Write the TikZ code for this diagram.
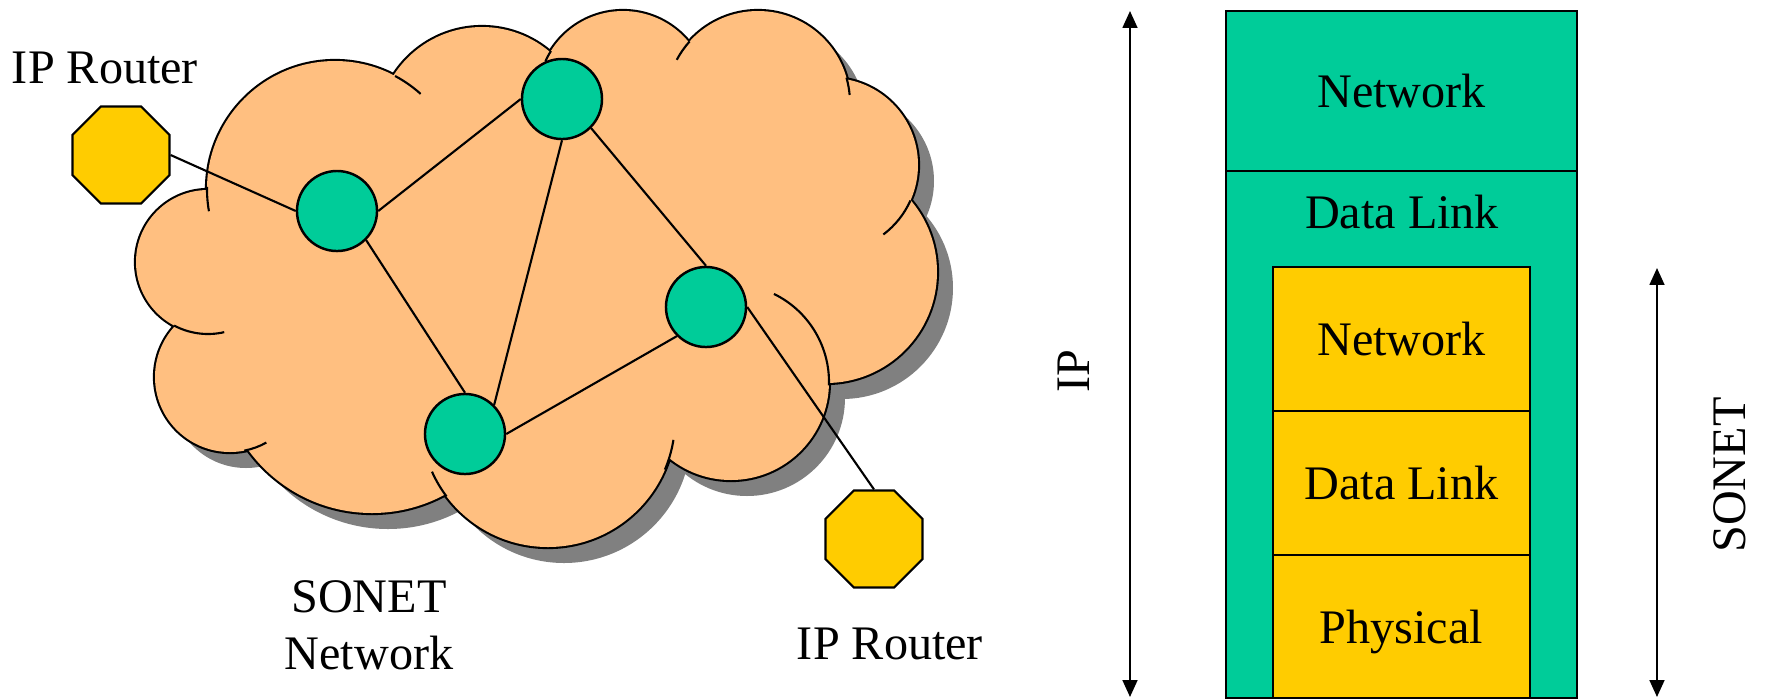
\documentclass[tikz,border=0pt]{standalone}
\usepackage{fontspec}
\setmainfont{Liberation Serif}
\usetikzlibrary{shapes.geometric,arrows.meta}

\definecolor{cloudfill}{HTML}{FFBF80}
\definecolor{cloudshadow}{HTML}{808080}
\definecolor{sonetgreen}{HTML}{00CC99}
\definecolor{routeryellow}{HTML}{FFCC00}

\tikzset{
  router/.style={regular polygon, regular polygon sides=8, draw, fill=routeryellow, inner sep=0pt, minimum size=1.05cm},
  adm/.style={circle, draw, fill=sonetgreen, line width=0.7pt, inner sep=0pt, minimum size=0.8cm},
  lbl/.style={font=\fontsize{13.7}{16}\selectfont, inner sep=0pt, anchor=base},
  layer/.style={draw, font=\fontsize{13.7}{16}\selectfont, inner sep=0pt, outer sep=0pt, text depth=0pt},
  span/.style={{Triangle[length=4.8pt,width=4.2pt]}-{Triangle[length=4.8pt,width=4.2pt]}},
}

% lobes of the cloud, and the polygon through their centres that fills the middle
\newcommand{\cloudlobes}{(335,189) circle[radius=128] (482,132) circle[radius=105]
  (623,96) circle[radius=85] (758,103) circle[radius=92] (831,165) circle[radius=87]
  (826,272) circle[radius=111] (731,382) circle[radius=98] (548,420) circle[radius=127]
  (372,360) circle[radius=153] (230,377) circle[radius=75] (208,262) circle[radius=72]}
\newcommand{\cloudcore}{(335,189) -- (482,132) -- (623,96) -- (758,103) -- (831,165)
  -- (826,272) -- (731,382) -- (548,420) -- (372,360) -- (230,377) -- (208,262) -- cycle}

\begin{document}
\begin{tikzpicture}[x=0.01cm, y=-0.01cm, line width=0.6pt]
    \useasboundingbox (0,0) rectangle (1765,699);

    % cloud: shadow, outline, fill, then the creases between lobes
    \fill[cloudshadow, shift={(16,16)}] \cloudlobes;
    \fill[cloudshadow, shift={(16,16)}] \cloudcore;
    \draw[line width=1.2pt] \cloudlobes;
    \fill[cloudfill] \cloudlobes;
    \fill[cloudfill] \cloudcore;
    \draw (335,189) ++(181:128) arc[start angle=181, end angle=170, radius=128]
          (335,189) ++(-62:128) arc[start angle=-62, end angle=-48, radius=128]
          (623,96) ++(-148:85) arc[start angle=-148, end angle=-156, radius=85]
          (758,103) ++(-138:92) arc[start angle=-138, end angle=-152, radius=92]
          (758,103) ++(-16:92) arc[start angle=-16, end angle=-5, radius=92]
          (831,165) ++(24:87) arc[start angle=24, end angle=53, radius=87]
          (731,382) ++(2:98) arc[start angle=2, end angle=-64, radius=98]
          (548,420) ++(23:127) arc[start angle=23, end angle=9, radius=127]
          (548,420) ++(143:127) arc[start angle=143, end angle=156, radius=127]
          (230,377) ++(79:75) arc[start angle=79, end angle=61, radius=75]
          (208,262) ++(118:72) arc[start angle=118, end angle=77, radius=72];

    % routers and SONET nodes
    \node[router] (rtr1) at (121,155) {};
    \node[router] (rtr2) at (874,539) {};
    \node[adm] (adm1) at (337,211) {};
    \node[adm] (adm2) at (562,99) {};
    \node[adm] (adm3) at (706,307) {};
    \node[adm] (adm4) at (465,434) {};
    \node[lbl] (rtr1lbl) at (105,83) {IP Router};
    \node[lbl] (rtr2lbl) at (890,659) {IP Router};
    \node[lbl] (sonetlbl) at (369,612) {SONET};
    \node[lbl] (netlbl) at (369,669) {Network};

    \path (rtr1.east) edge (adm1.west);
    \path (adm1.east) edge (adm2.west);
    \path (adm1.south east) edge (adm4.north);
    \path (adm2.south) edge (adm4.north east);
    \path (adm2.south east) edge (adm3.north);
    \path (adm3.south west) edge (adm4.east);
    \path (adm3.east) edge (rtr2.north);

    % protocol stack
    \node[layer, fill=sonetgreen, minimum width=3.51cm, minimum height=1.6cm] (ipnet) at (1401.5,91) {Network};
    \node[layer, fill=sonetgreen, minimum width=3.51cm, minimum height=5.27cm, anchor=north] (iplink) at (ipnet.south) {};
    \node[lbl] (iplinktxt) at (1402,228) {Data Link};
    \node[layer, fill=routeryellow, minimum width=2.57cm, minimum height=1.44cm] (sonetnet) at (1401.5,339) {Network};
    \node[layer, fill=routeryellow, minimum width=2.57cm, minimum height=1.44cm, anchor=north] (sonetlink) at (sonetnet.south) {Data Link};
    \node[layer, fill=routeryellow, minimum width=2.57cm, minimum height=1.43cm, anchor=north] (sonetphys) at (sonetlink.south) {Physical};

    % extent of each layer set
    \coordinate (iptop) at (1130,11);
    \coordinate (ipbot) at (1130,697);
    \path (iptop) edge[span] (ipbot);
    \node[lbl, rotate=90, anchor=center] (iplbl) at (1074,371) {IP};
    \coordinate (sntop) at (1657,268);
    \coordinate (snbot) at (1657,697);
    \path (sntop) edge[span] (snbot);
    \node[lbl, rotate=90, anchor=center] (snlbl) at (1730,475) {SONET};
\end{tikzpicture}
\end{document}
